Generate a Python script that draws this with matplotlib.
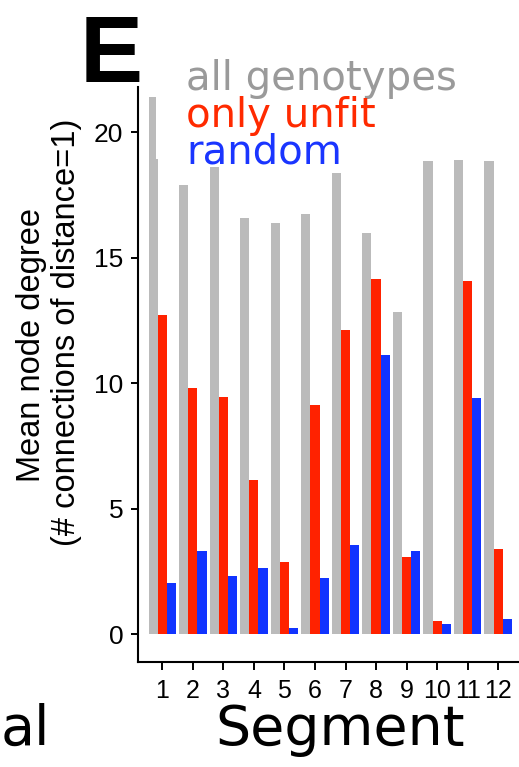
import matplotlib
matplotlib.use("Agg")
import matplotlib.pyplot as plt
from matplotlib import font_manager
import numpy as np

# ---- data ----
segments = [1, 2, 3, 4, 5, 6, 7, 8, 9, 10, 11, 12]
tick_labels = [str(s) for s in segments]
all_genotypes = [18.93, 17.91, 18.63, 16.58, 16.38, 16.75, 18.37, 15.98, 12.86, 18.88, 18.92, 18.88]
all_genotypes_seg1_peak = [21.40]
only_unfit = [12.73, 9.81, 9.45, 6.16, 2.90, 9.14, 12.13, 14.18, 3.09, 0.55, 14.07, 3.41]
random_vals = [2.06, 3.33, 2.33, 2.64, 0.25, 2.24, 3.57, 11.14, 3.33, 0.42, 9.42, 0.62]
yticks = [0, 5, 10, 15, 20]
series_names = ["all genotypes", "only unfit", "random"]

GRAY, RED, BLUE = "#BBBBBB", "#FF2200", "#1133FF"
TGRAY, TRED, TBLUE = "#9A9A9A", "#FF2A00", "#1A35FF"

def has_font(name):
    try:
        font_manager.findfont(font_manager.FontProperties(family=name), fallback_to_default=False)
        return True
    except Exception:
        return False

narrow = "Liberation Sans Narrow" if has_font("Liberation Sans Narrow") else "Liberation Sans"

W, H = 519, 767
fig = plt.figure(figsize=(W / 100, H / 100), dpi=100)
ax = fig.add_axes([138 / W, (H - 662) / H, (W - 138) / W, (662 - 87) / H])

x = np.array(segments, dtype=float)
bw = 0.3
ax.bar(x - bw, all_genotypes, width=bw, color=GRAY, linewidth=0)
ax.bar(x[:1] - 1.5 * bw, all_genotypes_seg1_peak, width=bw - 0.04, align="edge", color=GRAY, linewidth=0)
ax.bar(x, only_unfit, width=bw, color=RED, linewidth=0)
ax.bar(x + bw, random_vals, width=bw, color=BLUE, linewidth=0)

ax.set_xlim(0.205, 12.68)
ax.set_ylim(-1.096, 21.81)
ax.set_xticks(x)
ax.set_xticklabels(tick_labels, fontfamily=narrow, fontsize=18)
ax.set_yticks(yticks)
ax.set_yticklabels([str(v) for v in yticks], fontfamily="Liberation Sans", fontsize=19)
for s in ["top", "right"]:
    ax.spines[s].set_visible(False)
for s in ["left", "bottom"]:
    ax.spines[s].set_linewidth(1.5)
    ax.spines[s].set_color("black")
ax.tick_params(axis="y", length=5, width=1.4, pad=5.5, colors="black")
ax.tick_params(axis="x", length=6, width=1.4, pad=6.5, colors="black")

def fx(px):
    return px / W

def fy(py):
    return 1 - py / H

# y label (two lines)
fig.text(fx(40), fy(345), "Mean node degree", rotation=90, rotation_mode="anchor",
         ha="center", va="baseline", fontfamily="Liberation Sans", fontsize=23.5)
fig.text(fx(75), fy(332), "(# connections of distance=1)", rotation=90, rotation_mode="anchor",
         ha="center", va="baseline", fontfamily="Liberation Sans", fontsize=23.5)

# panel letter
fig.text(fx(80), fy(82), "E", fontfamily="Liberation Sans", fontweight="bold", fontsize=68,
         ha="left", va="baseline")

# legend texts
for name, col, base in zip(series_names, [TGRAY, TRED, TBLUE], [90, 126.7, 163.3]):
    fig.text(fx(186), fy(base), name, color=col, fontfamily="DejaVu Sans", fontsize=29,
             ha="left", va="baseline")

# x label and fragment of a neighbouring panel's label
fig.text(fx(340), fy(745), "Segment", fontfamily="DejaVu Sans", fontsize=40, ha="center", va="baseline")
fig.text(fx(0.5), fy(745), "al", fontfamily="DejaVu Sans", fontsize=40, ha="left", va="baseline")

fig.savefig("out.png", dpi=100)
